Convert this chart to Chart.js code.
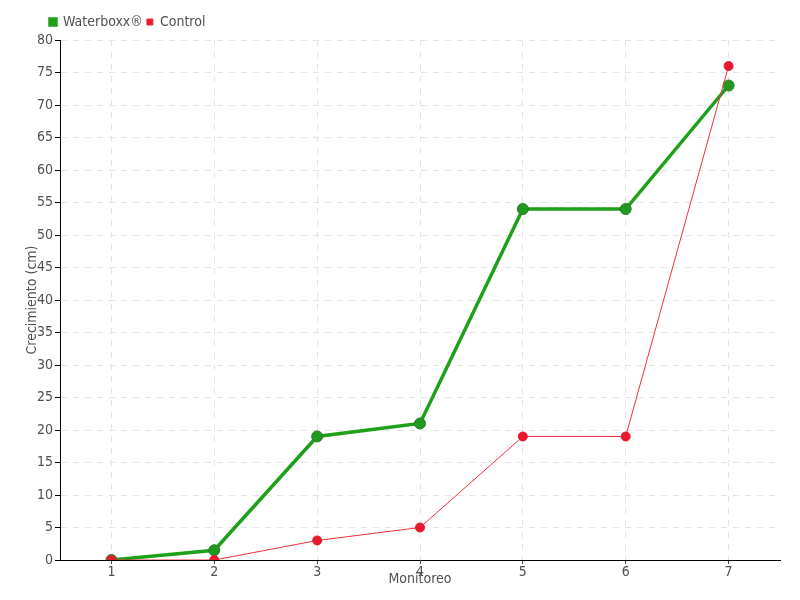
<!DOCTYPE html>
<html>
<head>
<meta charset="utf-8">
<script src="https://cdn.jsdelivr.net/npm/chart.js@4"></script>
<style>
  html, body { margin: 0; padding: 0; background: #fff; }
  #wrap { width: 800px; height: 600px; }
</style>
</head>
<body>
<div id="wrap"><canvas id="grafico" width="800" height="600"></canvas></div>
<script>
const monitoreos = ['1', '2', '3', '4', '5', '6', '7'];
const waterboxx = [0, 1.5, 19, 21, 54, 54, 73];
const control = [0, 0, 3, 5, 19, 19, 76];

const fuente = "'DejaVu Sans Condensed', 'Liberation Sans Narrow', sans-serif";
const cinza = '#505050';

// posiciona a legenda e fixa a altura dela
const ajusteLegenda = {
  id: 'ajusteLegenda',
  beforeInit(chart) {
    const fit = chart.legend.fit;
    chart.legend.fit = function () {
      fit.call(this);
      this.height = 40;
    };
  },
  afterLayout(chart) {
    chart.legend.left = 46;
    chart.legend.top = 11;
  }
};

const ctx = document.getElementById('grafico').getContext('2d');
window.g1 = new Chart(ctx, {
  type: 'line',
  data: {
    labels: monitoreos,
    datasets: [{
      label: 'Waterboxx®',
      data: waterboxx,
      borderColor: '#1fa01a',
      backgroundColor: '#1fa01a',
      borderWidth: 3.5,
      pointRadius: 5.5,
      pointBackgroundColor: '#1f9a1f',
      pointBorderColor: '#2a7a2a',
      pointBorderWidth: 1,
      tension: 0,
      order: 2
    }, {
      label: 'Control',
      data: control,
      borderColor: '#f0303f',
      backgroundColor: '#e8192c',
      borderWidth: 1,
      pointRadius: 4.5,
      pointBackgroundColor: '#e8192c',
      pointBorderColor: '#e8192c',
      tension: 0,
      order: 1
    }]
  },
  options: {
    responsive: false,
    animation: false,
    layout: { padding: { left: 0, right: 20, top: 0, bottom: 0 } },
    plugins: {
      legend: {
        position: 'top',
        align: 'start',
        labels: {
          boxWidth: 6,
          boxHeight: 6,
          padding: 4,
          color: cinza,
          font: { family: fuente, size: 14 },
          sort: (a, b) => a.datasetIndex - b.datasetIndex
        }
      },
      tooltip: { enabled: false }
    },
    scales: {
      x: {
        offset: true,
        grid: {
          offset: false,
          color: '#e4e4e4',
          tickColor: cinza,
          tickLength: 4,
          drawTicks: true
        },
        border: { color: '#000', dash: [6, 6], display: true },
        ticks: { color: cinza, padding: 0, font: { family: fuente, size: 14 } },
        title: {
          display: true,
          text: 'Monitoreo',
          color: cinza,
          padding: { top: 0, bottom: 12 },
          font: { family: fuente, size: 14 }
        },
        afterFit: s => { s.height = 40; }
      },
      y: {
        min: 0,
        max: 80,
        grid: {
          color: '#e4e4e4',
          tickColor: '#000',
          tickLength: 5
        },
        border: { color: '#000', dash: [6, 6] },
        ticks: {
          stepSize: 5,
          color: cinza,
          padding: 2,
          font: { family: fuente, size: 14 }
        },
        title: {
          display: true,
          text: 'Crecimiento (cm)',
          color: cinza,
          padding: { top: 24, bottom: 0 },
          font: { family: fuente, size: 14 }
        },
        afterFit: s => { s.width = 60; }
      }
    }
  },
  plugins: [ajusteLegenda]
});
</script>
</body>
</html>
